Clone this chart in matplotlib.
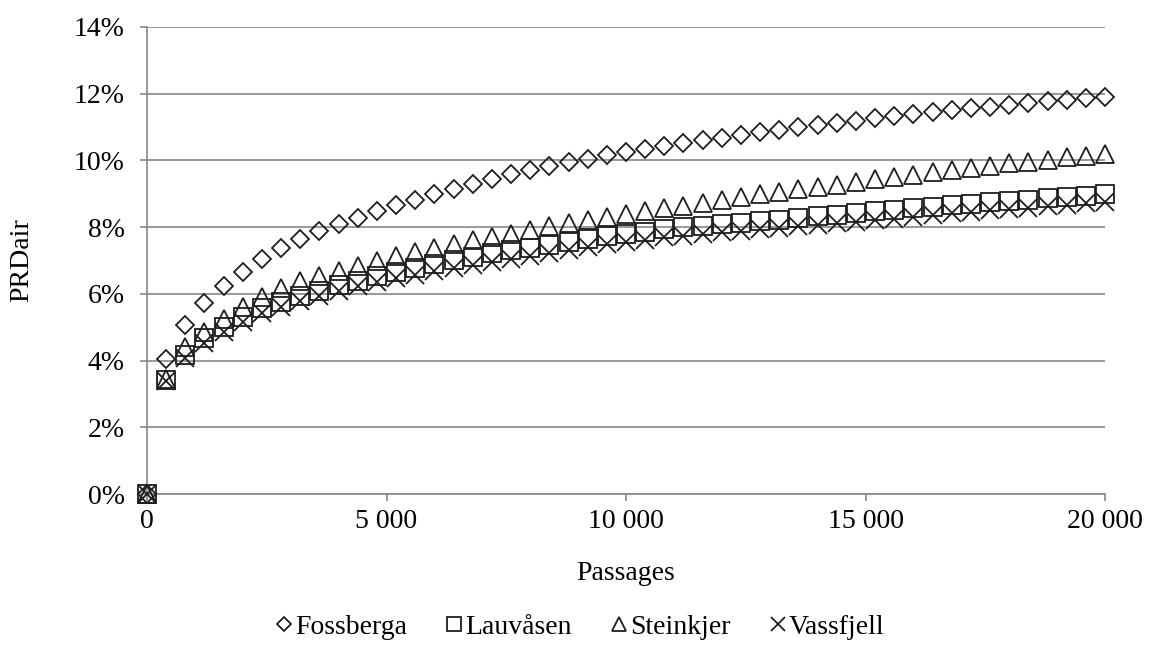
import matplotlib
matplotlib.use("Agg")
import matplotlib.pyplot as plt
from matplotlib.ticker import FuncFormatter, MultipleLocator

# Passages sampled every 400 from 0 to 20 000
passages = list(range(0, 20001, 400))

# PRDair in percent for each site
fossberga = [0.00, 4.04, 5.08, 5.72, 6.24, 6.66, 7.04, 7.36, 7.63, 7.87,
             8.08, 8.27, 8.47, 8.65, 8.82, 8.98, 9.14, 9.30, 9.45, 9.59,
             9.71, 9.83, 9.94, 10.04, 10.15, 10.24, 10.34, 10.43, 10.52, 10.60,
             10.68, 10.76, 10.84, 10.92, 10.99, 11.06, 11.13, 11.19, 11.26, 11.33,
             11.39, 11.45, 11.50, 11.56, 11.61, 11.67, 11.72, 11.77, 11.82, 11.86,
             11.91]
lauvasen = [0.00, 3.42, 4.17, 4.67, 5.02, 5.31, 5.57, 5.76, 5.94, 6.09,
            6.26, 6.39, 6.53, 6.66, 6.79, 6.89, 7.01, 7.11, 7.21, 7.30,
            7.38, 7.46, 7.55, 7.64, 7.72, 7.79, 7.86, 7.93, 7.99, 8.04,
            8.08, 8.12, 8.17, 8.22, 8.27, 8.32, 8.37, 8.42, 8.47, 8.51,
            8.56, 8.60, 8.65, 8.70, 8.75, 8.79, 8.82, 8.86, 8.91, 8.94,
            8.99]
steinkjer = [0.00, 3.45, 4.40, 4.85, 5.25, 5.60, 5.90, 6.17, 6.39, 6.54,
             6.69, 6.84, 6.99, 7.12, 7.26, 7.36, 7.49, 7.61, 7.71, 7.80,
             7.92, 8.03, 8.13, 8.22, 8.31, 8.39, 8.48, 8.56, 8.64, 8.73,
             8.81, 8.89, 8.98, 9.05, 9.13, 9.19, 9.26, 9.36, 9.43, 9.50,
             9.57, 9.64, 9.71, 9.77, 9.84, 9.91, 9.96, 10.02, 10.09, 10.14,
             10.19]
vassfjell = [0.00, 3.38, 4.07, 4.52, 4.87, 5.17, 5.42, 5.62, 5.80, 5.95,
             6.10, 6.23, 6.36, 6.48, 6.58, 6.68, 6.78, 6.87, 6.96, 7.05,
             7.14, 7.23, 7.32, 7.40, 7.48, 7.55, 7.62, 7.69, 7.74, 7.79,
             7.84, 7.88, 7.93, 7.98, 8.03, 8.06, 8.11, 8.15, 8.20, 8.25,
             8.31, 8.36, 8.41, 8.45, 8.50, 8.54, 8.58, 8.62, 8.67, 8.71,
             8.75]

series = [
    ("Fossberga", fossberga, "D", 9.2),
    ("Lauvåsen", lauvasen, "s", 13),
    ("Steinkjer", steinkjer, "^", 13),
    ("Vassfjell", vassfjell, "x", 13),
]

plt.rcParams["font.family"] = ["Liberation Serif", "DejaVu Serif"]
FS = 20
INK = "#1e1e1e"
GRID = "#878787"

fig = plt.figure(figsize=(11.57, 6.46), dpi=100)
ax = fig.add_axes([147 / 1157, 1 - 494 / 646, 958 / 1157, 467 / 646])

for name, vals, mk, ms in series:
    ax.plot(passages, [v / 100 for v in vals], linestyle="none", marker=mk,
            markersize=ms, markerfacecolor="none", markeredgecolor=INK,
            markeredgewidth=1.3, color=INK, label=name, clip_on=False, zorder=3)

ax.set_xlim(0, 20000)
ax.set_ylim(0, 0.14)
ax.xaxis.set_major_locator(MultipleLocator(5000))
ax.yaxis.set_major_locator(MultipleLocator(0.02))
ax.xaxis.set_major_formatter(FuncFormatter(lambda v, p: f"{int(round(v)):,}".replace(",", " ")))
ax.yaxis.set_major_formatter(FuncFormatter(lambda v, p: f"{v * 100:.0f}%"))

ax.grid(axis="y", color=GRID, linewidth=1.2)
ax.set_axisbelow(True)
for side in ("top", "right"):
    ax.spines[side].set_visible(False)
for side in ("left", "bottom"):
    ax.spines[side].set_color(GRID)
    ax.spines[side].set_linewidth(1.2)

ax.tick_params(axis="both", colors=GRID, labelcolor="black", labelsize=FS,
               length=5, width=1.2, direction="out")
ax.tick_params(axis="y", pad=11)
ax.tick_params(axis="x", pad=6)

ax.set_xlabel("Passages", fontsize=FS)
ax.xaxis.label.set_va("center")
ax.xaxis.set_label_coords(0.5, (494 - 574) / 467)
ax.set_ylabel("PRDair", fontsize=FS)
ax.yaxis.label.set_va("center")
ax.yaxis.set_label_coords((22 - 147) / 958, 0.5)

fig.legend(loc="center", bbox_to_anchor=(0.5, 1 - 627 / 646), ncol=4,
           frameon=False, fontsize=FS, markerscale=0.75, handlelength=0.8,
           handletextpad=0.0, columnspacing=1.3, borderaxespad=0)

fig.savefig("out.png", dpi=100)
